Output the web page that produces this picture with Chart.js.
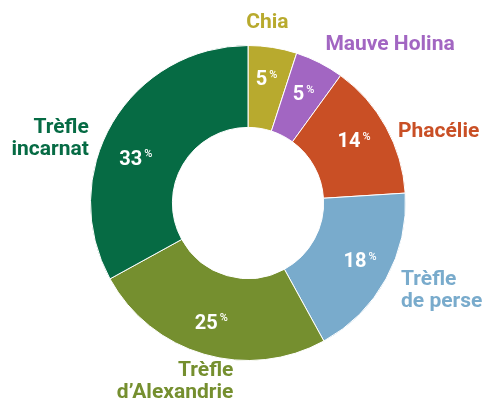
<!DOCTYPE html>
<html>
<head>
<meta charset="utf-8">
<script src="https://cdn.jsdelivr.net/npm/chart.js@4/dist/chart.umd.min.js"></script>
<style>
  html, body { margin: 0; padding: 0; background: #fff; }
  #wrap { width: 485px; height: 403px; }
</style>
</head>
<body>
<div id="wrap"><canvas id="chart" width="485" height="403"></canvas></div>
<script>
// data
const categories = ['Chia', 'Mauve Holina', 'Phacélie', 'Trèfle de perse', 'Trèfle d\u2019Alexandrie', 'Trèfle incarnat'];
const labelLines = [['Chia'], ['Mauve Holina'], ['Phacélie'], ['Trèfle', 'de perse'], ['Trèfle', 'd\u2019Alexandrie'], ['Trèfle', 'incarnat']];
const shares = [5, 5, 14, 18, 25, 33];
const colors = ['#b8aa2e', '#a266c2', '#c94f25', '#79abcc', '#758f2f', '#066b44'];

// label placement (layout only)
const outerAlign = ['center', 'left', 'left', 'left', 'right', 'right'];
const outerShift = [[-9, -1], [-5, 3], [-9, 16], [-6, 0], [36, 4], [-3, 28]];
const innerShift = [[-1, 0], [-1, 3], [-3, -1], [3, -1], [-2, 1], [-5, 20]];

const FONT = 'Roboto, "DejaVu Sans", sans-serif';

const labelPlugin = {
    id: 'donutLabels',
    afterDatasetsDraw(chart) {
        const ctx = chart.ctx;
        const meta = chart.getDatasetMeta(0);
        meta.data.forEach((arc, i) => {
            const p = arc.getProps(['x', 'y', 'startAngle', 'endAngle', 'innerRadius', 'outerRadius'], true);
            const mid = (p.startAngle + p.endAngle) / 2;

            // percentage inside the ring
            const rIn = (p.innerRadius + p.outerRadius) / 2 + 8;
            const ix = p.x + Math.cos(mid) * rIn + innerShift[i][0];
            const iy = p.y + Math.sin(mid) * rIn + innerShift[i][1];
            const num = String(shares[i]);
            ctx.save();
            ctx.fillStyle = '#ffffff';
            ctx.textBaseline = 'middle';
            ctx.font = 'bold 20px ' + FONT;
            const wNum = ctx.measureText(num).width;
            ctx.font = '500 11px ' + FONT;
            const wPct = ctx.measureText('%').width;
            const x0 = ix - (wNum + 2 + wPct) / 2;
            ctx.textAlign = 'left';
            ctx.font = 'bold 20px ' + FONT;
            ctx.fillText(num, x0, iy);
            ctx.font = '500 11px ' + FONT;
            ctx.fillText('%', x0 + wNum + 2, iy - 5);
            ctx.restore();

            // category name outside the ring
            const rOut = p.outerRadius + 24;
            const ox = p.x + Math.cos(mid) * rOut + outerShift[i][0];
            const oy = p.y + Math.sin(mid) * rOut + outerShift[i][1];
            const lines = labelLines[i];
            const lh = 22;
            ctx.save();
            ctx.fillStyle = colors[i];
            ctx.font = 'bold 21px ' + FONT;
            ctx.textAlign = outerAlign[i];
            ctx.textBaseline = 'middle';
            lines.forEach((t, k) => {
                ctx.fillText(t, ox, oy + (k - (lines.length - 1) / 2) * lh);
            });
            ctx.restore();
        });
    }
};

new Chart(document.getElementById('chart').getContext('2d'), {
    type: 'doughnut',
    plugins: [labelPlugin],
    data: {
        labels: categories,
        datasets: [{
            data: shares,
            backgroundColor: colors,
            borderColor: '#ffffff',
            borderWidth: 1
        }]
    },
    options: {
        responsive: false,
        animation: false,
        cutout: '48%',
        layout: { padding: { left: 90, right: 79, top: 45, bottom: 42 } },
        plugins: {
            legend: { display: false },
            tooltip: { enabled: false }
        }
    }
});
</script>
</body>
</html>
